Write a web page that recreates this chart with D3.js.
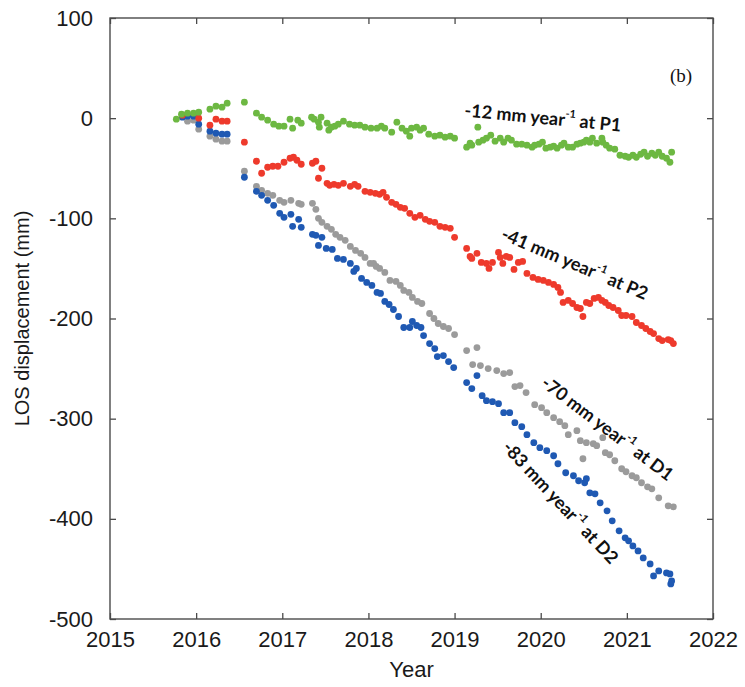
<!DOCTYPE html>
<html>
<head>
<meta charset="utf-8">
<script src="https://cdn.jsdelivr.net/npm/d3@7"></script>
<style>
  html, body { margin: 0; padding: 0; background: #fff; }
  svg { display: block; }
</style>
</head>
<body>
<svg id="chart" width="745" height="687"></svg>
<script>
// LOS displacement time series for four points, [decimal year, mm]
const seriesP1 = [
  [2015.77,-1],[2015.83,4],[2015.90,5],[2015.97,5],[2016.03,6],[2016.16,9],[2016.23,12],[2016.30,11],[2016.36,15],
  [2016.56,16],[2016.70,5],[2016.76,1],[2016.83,-2],[2016.90,-6],[2016.96,-8],[2017.02,-8],[2017.09,-1],[2017.12,-10],
  [2017.18,-2],[2017.22,-5],[2017.34,1],[2017.37,-1],[2017.42,-4],[2017.43,-9],[2017.45,1],[2017.52,-5],[2017.54,-12],
  [2017.57,-9],[2017.61,-8],[2017.65,-6],[2017.71,-3],[2017.78,-6],[2017.84,-7],[2017.90,-7],[2017.96,-9],[2018.03,-10],
  [2018.10,-10],[2018.15,-8],[2018.19,-10],[2018.27,-14],[2018.33,-4],[2018.39,-10],[2018.44,-13],[2018.48,-18],
  [2018.50,-10],[2018.56,-9],[2018.60,-12],[2018.64,-10],[2018.70,-16],[2018.77,-18],[2018.83,-17],[2018.89,-19],
  [2018.95,-18],[2019.00,-20],[2019.14,-29],[2019.18,-25],[2019.20,-27],[2019.27,-9],[2019.28,-24],[2019.33,-22],
  [2019.37,-20],[2019.42,-17],[2019.47,-23],[2019.53,-20],[2019.57,-24],[2019.62,-20],[2019.66,-22],[2019.72,-26],
  [2019.78,-26],[2019.84,-27],[2019.90,-29],[2019.93,-27],[2019.98,-26],[2020.02,-24],[2020.06,-30],[2020.11,-29],
  [2020.15,-28],[2020.19,-30],[2020.24,-27],[2020.27,-25],[2020.32,-29],[2020.37,-29],[2020.42,-26],[2020.46,-25],
  [2020.50,-24],[2020.53,-22],[2020.57,-24],[2020.60,-20],[2020.65,-25],[2020.71,-20],[2020.72,-24],[2020.76,-27],
  [2020.80,-30],[2020.86,-31],[2020.92,-37],[2020.98,-38],[2021.02,-39],[2021.07,-37],[2021.11,-39],[2021.16,-36],
  [2021.20,-34],[2021.24,-38],[2021.29,-35],[2021.33,-37],[2021.37,-34],[2021.41,-38],[2021.46,-40],[2021.50,-44],
  [2021.52,-34]
];
const seriesP2 = [
  [2015.84,3],[2016.03,0],[2016.16,-7],[2016.23,-1],[2016.30,-3],[2016.36,-3],[2016.56,-24],[2016.70,-43],[2016.76,-55],
  [2016.83,-49],[2016.89,-48],[2016.95,-48],[2017.02,-44],[2017.09,-40],[2017.13,-39],[2017.17,-42],[2017.22,-46],
  [2017.35,-45],[2017.39,-43],[2017.42,-60],[2017.46,-50],[2017.52,-65],[2017.55,-67],[2017.60,-66],[2017.65,-67],
  [2017.71,-65],[2017.79,-68],[2017.84,-66],[2017.88,-68],[2017.96,-73],[2018.02,-74],[2018.08,-75],[2018.13,-76],
  [2018.17,-74],[2018.21,-79],[2018.27,-84],[2018.32,-86],[2018.37,-89],[2018.42,-90],[2018.48,-95],[2018.54,-99],
  [2018.60,-97],[2018.66,-101],[2018.71,-103],[2018.77,-104],[2018.83,-108],[2018.89,-109],[2018.95,-110],[2019.00,-119],
  [2019.14,-130],[2019.18,-138],[2019.20,-140],[2019.26,-135],[2019.31,-144],[2019.37,-145],[2019.40,-150],[2019.44,-144],
  [2019.51,-134],[2019.53,-139],[2019.56,-145],[2019.60,-138],[2019.64,-139],[2019.69,-151],[2019.74,-144],[2019.79,-143],
  [2019.84,-155],[2019.91,-159],[2019.97,-161],[2020.03,-162],[2020.09,-164],[2020.15,-166],[2020.20,-169],[2020.23,-174],
  [2020.26,-184],[2020.32,-182],[2020.37,-185],[2020.42,-189],[2020.46,-190],[2020.49,-198],[2020.53,-184],[2020.57,-185],
  [2020.62,-180],[2020.67,-179],[2020.71,-182],[2020.75,-184],[2020.79,-187],[2020.84,-189],[2020.90,-192],[2020.94,-197],
  [2020.99,-197],[2021.06,-198],[2021.11,-204],[2021.17,-207],[2021.22,-210],[2021.27,-213],[2021.31,-215],[2021.37,-220],
  [2021.41,-222],[2021.48,-221],[2021.51,-222],[2021.54,-225]
];
const seriesD1 = [
  [2015.90,-3],[2015.97,-2],[2016.03,-11],[2016.16,-18],[2016.23,-21],[2016.30,-23],[2016.36,-23],[2016.56,-53],
  [2016.70,-68],[2016.76,-72],[2016.83,-75],[2016.89,-77],[2016.97,-82],[2017.02,-84],[2017.10,-82],[2017.19,-85],
  [2017.22,-86],[2017.35,-85],[2017.39,-91],[2017.42,-100],[2017.46,-104],[2017.52,-108],[2017.57,-111],[2017.62,-116],
  [2017.67,-119],[2017.73,-122],[2017.79,-128],[2017.85,-132],[2017.91,-135],[2017.96,-139],[2018.02,-145],[2018.06,-145],
  [2018.09,-148],[2018.13,-150],[2018.19,-154],[2018.25,-162],[2018.32,-163],[2018.37,-167],[2018.41,-172],[2018.47,-174],
  [2018.51,-179],[2018.57,-183],[2018.62,-185],[2018.71,-195],[2018.76,-200],[2018.81,-205],[2018.87,-208],[2018.93,-210],
  [2019.00,-216],[2019.14,-232],[2019.21,-246],[2019.26,-229],[2019.30,-247],[2019.39,-250],[2019.49,-252],[2019.57,-255],
  [2019.64,-254],[2019.70,-268],[2019.76,-267],[2019.83,-274],[2019.93,-286],[2020.01,-289],[2020.07,-294],[2020.15,-299],
  [2020.22,-303],[2020.28,-307],[2020.32,-316],[2020.42,-312],[2020.46,-322],[2020.49,-340],[2020.53,-324],[2020.61,-325],
  [2020.65,-327],[2020.72,-319],[2020.75,-334],[2020.80,-336],[2020.86,-342],[2020.94,-350],[2020.99,-353],[2021.06,-357],
  [2021.11,-359],[2021.17,-364],[2021.24,-368],[2021.29,-370],[2021.37,-379],[2021.48,-387],[2021.54,-388]
];
const seriesD2 = [
  [2015.84,1],[2015.90,2],[2015.97,2],[2016.03,-6],[2016.16,-13],[2016.23,-15],[2016.30,-16],[2016.36,-16],[2016.56,-59],
  [2016.70,-73],[2016.76,-77],[2016.83,-82],[2016.90,-87],[2016.97,-95],[2017.02,-99],[2017.10,-96],[2017.12,-108],
  [2017.19,-101],[2017.22,-109],[2017.35,-116],[2017.39,-117],[2017.42,-127],[2017.46,-119],[2017.51,-130],[2017.58,-131],
  [2017.64,-140],[2017.71,-141],[2017.79,-145],[2017.83,-153],[2017.86,-150],[2017.92,-160],[2017.98,-164],[2018.04,-167],
  [2018.10,-174],[2018.14,-175],[2018.19,-183],[2018.24,-186],[2018.29,-191],[2018.35,-198],[2018.41,-209],[2018.48,-209],
  [2018.51,-203],[2018.56,-207],[2018.61,-209],[2018.64,-217],[2018.71,-225],[2018.77,-230],[2018.80,-238],[2018.87,-237],
  [2018.93,-243],[2018.99,-249],[2019.14,-264],[2019.20,-270],[2019.26,-257],[2019.32,-277],[2019.37,-282],[2019.44,-283],
  [2019.51,-285],[2019.57,-294],[2019.64,-294],[2019.70,-304],[2019.78,-308],[2019.84,-316],[2019.92,-324],[2019.99,-329],
  [2020.07,-332],[2020.15,-337],[2020.20,-345],[2020.29,-354],[2020.38,-357],[2020.44,-362],[2020.51,-364],[2020.53,-360],
  [2020.57,-374],[2020.63,-375],[2020.69,-384],[2020.77,-392],[2020.83,-402],[2020.91,-412],[2020.98,-419],[2021.02,-422],
  [2021.07,-427],[2021.13,-432],[2021.19,-439],[2021.27,-445],[2021.31,-457],[2021.37,-452],[2021.46,-454],[2021.50,-455],
  [2021.51,-465],[2021.52,-462]
];

const xTicks = [2015, 2016, 2017, 2018, 2019, 2020, 2021, 2022];
const yTicks = [100, 0, -100, -200, -300, -400, -500];

const series = [
  { name: "D1", data: seriesD1, color: "#9b9b9b" },
  { name: "D2", data: seriesD2, color: "#1f59b3" },
  { name: "P2", data: seriesP2, color: "#ee3a2c" },
  { name: "P1", data: seriesP1, color: "#6db842" }
];

// Rate annotations: text, anchor point (centre) and angle
const labels = [
  { pre: "-12 mm year", post: " at P1", cx: 543, cy: 117, angle: 5.5 },
  { pre: "-41 mm year", post: " at P2", cx: 575, cy: 263, angle: 23 },
  { pre: "-70 mm year", post: " at D1", cx: 608, cy: 428, angle: 37 },
  { pre: "-83 mm year", post: " at D2", cx: 561, cy: 502, angle: 47 }
];

const svg = d3.select("#chart");
const x = d3.scaleLinear().domain([2015, 2022]).range([110, 713]);
const y = d3.scaleLinear().domain([-500, 100]).range([619, 18]);

const axisColor = "#4a4a4a";
const tickFont = "'Liberation Sans', Arial, sans-serif";
const plain = d => String(d);

// frame
svg.append("rect")
  .attr("x", x(2015)).attr("y", y(100))
  .attr("width", x(2022) - x(2015)).attr("height", y(-500) - y(100))
  .attr("fill", "none").attr("stroke", axisColor).attr("stroke-width", 1.4);

function styleAxis(g) {
  g.select(".domain").remove();
  g.selectAll(".tick line").attr("stroke", axisColor).attr("stroke-width", 1.3);
  g.selectAll(".tick text").attr("fill", "#1a1a1a")
    .style("font-family", tickFont).style("font-size", "22px");
}

svg.append("g").attr("transform", `translate(0,${y(-500)})`)
  .call(d3.axisBottom(x).tickValues(xTicks).tickFormat(plain).tickSize(-6).tickPadding(12))
  .call(styleAxis);
svg.append("g").attr("transform", `translate(${x(2015)},0)`)
  .call(d3.axisLeft(y).tickValues(yTicks).tickFormat(plain).tickSize(-6).tickPadding(17))
  .call(styleAxis);
svg.append("g").attr("transform", `translate(0,${y(100)})`)
  .call(d3.axisTop(x).tickValues(xTicks).tickFormat("").tickSize(-6))
  .call(styleAxis);
svg.append("g").attr("transform", `translate(${x(2022)},0)`)
  .call(d3.axisRight(y).tickValues(yTicks).tickFormat("").tickSize(-6))
  .call(styleAxis);

// axis titles
svg.append("text")
  .attr("x", (x(2015) + x(2022)) / 2).attr("y", 677)
  .attr("text-anchor", "middle")
  .style("font-family", tickFont).style("font-size", "22px").attr("fill", "#1a1a1a")
  .text("Year");
svg.append("text")
  .attr("transform", `translate(29,${(y(100) + y(-500)) / 2}) rotate(-90)`)
  .attr("text-anchor", "middle")
  .style("font-family", tickFont).style("font-size", "20px").attr("fill", "#1a1a1a")
  .text("LOS displacement (mm)");

// scatter points
const pts = svg.append("g");
series.forEach(s => {
  pts.append("g").attr("fill", s.color)
    .selectAll("circle").data(s.data).join("circle")
    .attr("cx", d => x(d[0])).attr("cy", d => y(d[1])).attr("r", 3.4);
});

// panel tag
svg.append("text").attr("x", 670).attr("y", 82)
  .style("font-family", "'Liberation Serif', 'Times New Roman', serif").style("font-size", "19px")
  .attr("fill", "#111").text("(b)");

// rate labels
labels.forEach(l => {
  const t = svg.append("text")
    .attr("transform", `translate(${l.cx},${l.cy}) rotate(${l.angle})`)
    .attr("text-anchor", "middle").attr("dominant-baseline", "central")
    .style("font-family", "Lato, 'Open Sans', sans-serif").style("font-weight", 700)
    .style("font-size", "18px").attr("fill", "#111");
  t.append("tspan").text(l.pre);
  t.append("tspan").attr("dy", -7).style("font-size", "11px").text("-1");
  t.append("tspan").attr("dy", 7).text(l.post);
});
</script>
</body>
</html>
